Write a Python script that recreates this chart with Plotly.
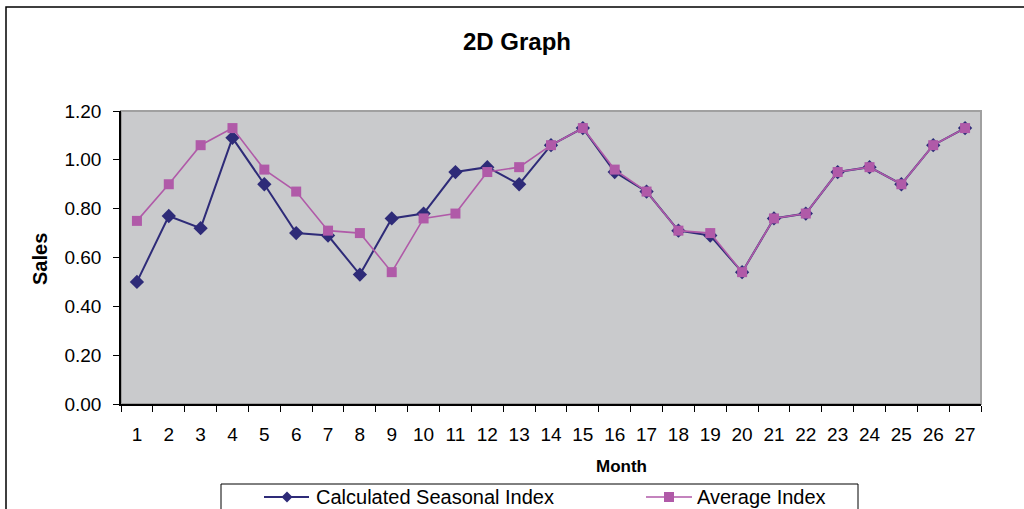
import plotly.graph_objects as go

months = [str(i) for i in range(1, 28)]
calculated_index = [0.50, 0.77, 0.72, 1.09, 0.90, 0.70, 0.69, 0.53, 0.76, 0.78,
                    0.95, 0.97, 0.90, 1.06, 1.13, 0.95, 0.87, 0.71, 0.69, 0.54,
                    0.76, 0.78, 0.95, 0.97, 0.90, 1.06, 1.13]
average_index = [0.75, 0.90, 1.06, 1.13, 0.96, 0.87, 0.71, 0.70, 0.54, 0.76,
                 0.78, 0.95, 0.97, 1.06, 1.13, 0.96, 0.87, 0.71, 0.70, 0.54,
                 0.76, 0.78, 0.95, 0.97, 0.90, 1.06, 1.13]
y_ticks = [0.0, 0.2, 0.4, 0.6, 0.8, 1.0, 1.2]

W, H = 1024, 509
L, R, T, B = 121, 981, 111, 404
FONT = "Liberation Sans, Arial, sans-serif"
NAVY = "#2e2b78"
MAG = "#b05aa8"


def px(x):
    return (x - L) / (R - L)


def py(y):
    return (B - y) / (B - T)


fig = go.Figure()
fig.add_trace(go.Scatter(
    x=months, y=calculated_index, mode="lines+markers",
    name="Calculated Seasonal Index",
    line=dict(color=NAVY, width=2),
    marker=dict(symbol="diamond", size=11, color=NAVY),
    showlegend=False, cliponaxis=False))
fig.add_trace(go.Scatter(
    x=months, y=average_index, mode="lines+markers",
    name="Average Index",
    line=dict(color=MAG, width=1.6),
    marker=dict(symbol="square", size=10, color=MAG),
    showlegend=False, cliponaxis=False))

shapes = []
# outer chart frame (extends past the image edge on right/bottom)
shapes.append(dict(type="rect", xref="paper", yref="paper",
                   x0=px(6), x1=px(1040), y0=py(7), y1=py(530),
                   line=dict(color="#000000", width=1.5), layer="below"))
# plot area border (gray top/right)
shapes.append(dict(type="rect", xref="paper", yref="paper",
                   x0=0, x1=1, y0=0, y1=1,
                   line=dict(color="#a0a0a0", width=2), layer="below"))

# legend box
shapes.append(dict(type="rect", xref="paper", yref="paper",
                   x0=px(221), x1=px(858), y0=py(484), y1=py(530),
                   line=dict(color="#000000", width=1)))
ly = 497
# legend entry 1
shapes.append(dict(type="line", xref="paper", yref="paper",
                   x0=px(264), x1=px(309), y0=py(ly), y1=py(ly),
                   line=dict(color=NAVY, width=2)))
d = 5.5
cx = 287
shapes.append(dict(type="path", xref="paper", yref="paper",
                   path=f"M {px(cx)},{py(ly-d)} L {px(cx+d)},{py(ly)} L {px(cx)},{py(ly+d)} L {px(cx-d)},{py(ly)} Z",
                   fillcolor=NAVY, line=dict(color=NAVY, width=0)))
# legend entry 2
shapes.append(dict(type="line", xref="paper", yref="paper",
                   x0=px(646), x1=px(692), y0=py(ly), y1=py(ly),
                   line=dict(color=MAG, width=1.6)))
s = 5
cx2 = 669
shapes.append(dict(type="rect", xref="paper", yref="paper",
                   x0=px(cx2 - s), x1=px(cx2 + s), y0=py(ly - s), y1=py(ly + s),
                   fillcolor=MAG, line=dict(color=MAG, width=0)))

annotations = [
    dict(text="<b>Sales</b>", xref="paper", yref="paper", x=px(40), y=py(259),
         showarrow=False, textangle=-90, font=dict(family=FONT, size=20, color="#000"),
         xanchor="center", yanchor="middle"),
    dict(text="<b>Month</b>", xref="paper", yref="paper", x=px(621), y=py(466),
         showarrow=False, font=dict(family=FONT, size=17, color="#000"),
         xanchor="center", yanchor="middle"),
    dict(text="Calculated Seasonal Index", xref="paper", yref="paper", x=px(314), y=py(ly),
         showarrow=False, font=dict(family=FONT, size=20, color="#000"),
         xanchor="left", yanchor="middle"),
    dict(text="Average Index", xref="paper", yref="paper", x=px(695), y=py(ly),
         showarrow=False, font=dict(family=FONT, size=20, color="#000"),
         xanchor="left", yanchor="middle"),
]

fig.update_layout(
    width=W, height=H,
    margin=dict(l=L, r=W - R, t=T, b=H - B, autoexpand=False),
    paper_bgcolor="#ffffff",
    plot_bgcolor="#c9cacc",
    title=dict(text="<b>2D Graph</b>", x=517 / W, y=1 - 42 / H,
               xref="container", yref="container", xanchor="center", yanchor="middle",
               font=dict(family=FONT, size=24, color="#000")),
    shapes=shapes,
    annotations=annotations,
    showlegend=False,
    font=dict(family=FONT, color="#000"),
)
fig.update_xaxes(
    type="category", categoryorder="array", categoryarray=months,
    range=[-0.5, len(months) - 0.5],
    tickson="boundaries", ticks="outside", ticklen=6, tickcolor="#000",
    showline=True, linecolor="#000", linewidth=1.5,
    showgrid=False, zeroline=False, tickangle=0,
    tickfont=dict(family=FONT, size=19, color="#000"),
    ticklabelstandoff=12,
)
fig.update_yaxes(
    range=[0, 1.2], tickvals=y_ticks, tickformat=".2f",
    ticks="outside", ticklen=6, tickcolor="#000",
    showline=True, linecolor="#000", linewidth=1.5,
    showgrid=False, zeroline=False,
    tickfont=dict(family=FONT, size=19, color="#000"),
    ticklabelstandoff=8,
)

fig.write_html(
    "out.html",
    config={"displayModeBar": False},
    post_script="document.body.style.margin='0';document.body.style.padding='0';document.body.style.overflow='hidden';",
)
